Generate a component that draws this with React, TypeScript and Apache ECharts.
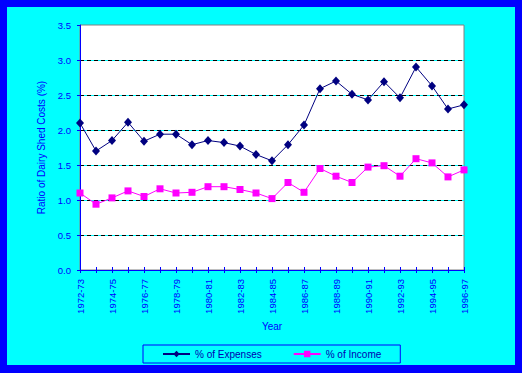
import React, { useEffect, useRef } from "react";
import * as echarts from "echarts";

const years = [
  "1972-73", "1973-74", "1974-75", "1975-76", "1976-77", "1977-78", "1978-79",
  "1979-80", "1980-81", "1981-82", "1982-83", "1983-84", "1984-85", "1985-86",
  "1986-87", "1987-88", "1988-89", "1989-90", "1990-91", "1991-92", "1992-93",
  "1993-94", "1994-95", "1995-96", "1996-97",
];
const expenses = [
  2.1, 1.7, 1.85, 2.11, 1.84, 1.94, 1.94, 1.79, 1.85, 1.82, 1.77, 1.65, 1.56,
  1.79, 2.07, 2.59, 2.7, 2.51, 2.43, 2.69, 2.46, 2.9, 2.63, 2.3, 2.36,
];
const income = [
  1.1, 0.94, 1.03, 1.13, 1.05, 1.16, 1.1, 1.11, 1.19, 1.19, 1.15, 1.1, 1.02,
  1.25, 1.11, 1.45, 1.34, 1.25, 1.47, 1.49, 1.34, 1.59, 1.53, 1.33, 1.43,
];
const yTicks = { min: 0, max: 3.5, interval: 0.5 };

const FONT = "Arial, 'Liberation Sans', sans-serif";
const BLUE = "#0000FF";

export default function App() {
  const ref = useRef<HTMLDivElement>(null);
  useEffect(() => {
    if (!ref.current) return;
    const chart = echarts.init(ref.current, null, { renderer: "svg" });
    chart.setOption({
      animation: false,
      backgroundColor: "#00FFFF",
      textStyle: { fontFamily: FONT },
      grid: {
        left: 73,
        top: 18,
        width: 384,
        height: 245,
        show: true,
        backgroundColor: "#FFFFFF",
        borderColor: "#808080",
        borderWidth: 1,
      },
      legend: {
        left: 136,
        top: 338,
        padding: [4, 19, 4, 19],
        borderColor: BLUE,
        borderWidth: 1,
        itemWidth: 27,
        itemHeight: 8,
        itemGap: 31,
        textStyle: { color: "#0000B0", fontSize: 10, fontFamily: FONT },
        data: [
          { name: "% of Expenses" },
          { name: "% of Income" },
        ],
      },
      xAxis: [
        {
          type: "category",
          data: years,
          boundaryGap: false,
          name: "Year",
          nameLocation: "middle",
          nameGap: 47,
          nameTextStyle: { color: BLUE, fontSize: 10, fontFamily: FONT },
          axisLine: { show: true, lineStyle: { color: BLUE, width: 1 } },
          axisTick: { show: true, interval: 0, length: 3, lineStyle: { color: BLUE } },
          axisLabel: {
            interval: 1,
            rotate: 90,
            margin: 9,
            color: BLUE,
            fontSize: 9.5,
            fontFamily: FONT,
          },
          splitLine: { show: false },
          z: 3,
        },
        {
          type: "category",
          data: years,
          boundaryGap: false,
          position: "bottom",
          axisLine: { show: false },
          axisTick: { show: true, interval: 0, inside: true, length: 3, lineStyle: { color: BLUE } },
          axisLabel: { show: false },
          splitLine: { show: false },
          z: 3,
        },
      ],
      yAxis: [
        {
          type: "value",
          ...yTicks,
          name: "Ratio of Dairy Shed Costs (%)",
          nameLocation: "middle",
          nameGap: 27,
          nameRotate: 90,
          nameTextStyle: { color: BLUE, fontSize: 10, fontFamily: FONT },
          axisLine: { show: true, lineStyle: { color: BLUE, width: 1 } },
          axisTick: { show: true, length: 3, lineStyle: { color: BLUE } },
          axisLabel: {
            color: BLUE,
            fontSize: 9.5,
            fontFamily: FONT,
            margin: 9,
            formatter: (v: number) => v.toFixed(1),
          },
          splitLine: {
            show: true,
            showMaxLine: false,
            lineStyle: { color: "#000000", type: [4, 3], width: 1 },
          },
          z: 2,
        },
        {
          type: "value",
          ...yTicks,
          axisLine: { show: false },
          axisTick: { show: false },
          axisLabel: { show: false },
          splitLine: {
            show: true,
            showMaxLine: false,
            lineStyle: { color: "#00FFFF", type: "solid", width: 1 },
          },
          z: 1,
        },
      ],
      series: [
        {
          name: "% of Expenses",
          type: "line",
          data: expenses,
          xAxisIndex: 0,
          yAxisIndex: 0,
          symbol: "diamond",
          symbolSize: [8, 9],
          lineStyle: { color: "#000080", width: 1 },
          itemStyle: { color: "#000080" },
          z: 5,
        },
        {
          name: "% of Income",
          type: "line",
          data: income,
          xAxisIndex: 0,
          yAxisIndex: 0,
          symbol: "rect",
          symbolSize: 7,
          lineStyle: { color: "#FF00FF", width: 1 },
          itemStyle: { color: "#FF00FF" },
          z: 4,
        },
      ],
    });
    return () => chart.dispose();
  }, []);

  return (
    <div
      style={{
        position: "fixed",
        left: 0,
        top: 0,
        width: 522,
        height: 373,
        background: BLUE,
      }}
    >
      <div
        ref={ref}
        style={{ position: "absolute", left: 7, top: 7, width: 508, height: 358 }}
      />
    </div>
  );
}
